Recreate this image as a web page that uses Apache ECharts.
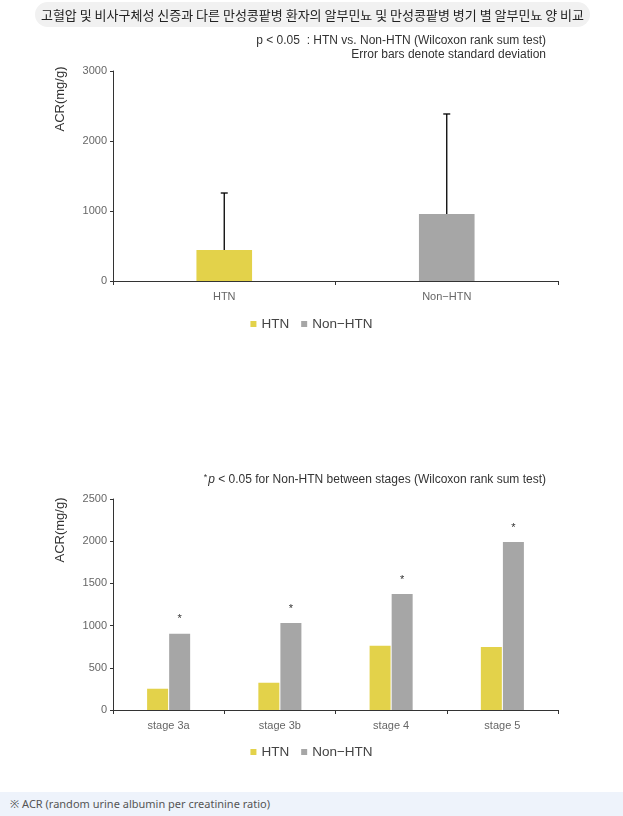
<!DOCTYPE html>
<html>
<head>
<meta charset="utf-8">
<script src="https://cdn.jsdelivr.net/npm/echarts@6/dist/echarts.min.js"></script>
<style>
html,body{margin:0;padding:0;width:623px;height:816px;background:#fff;overflow:hidden;}
#chart{position:absolute;left:0;top:0;width:623px;height:816px;}
#hdr{position:absolute;left:35px;top:2px;width:555px;height:25px;border-radius:13px;background:#f1f1f1;
 font-family:"Noto Sans CJK KR",sans-serif;font-size:13px;color:#222;text-align:center;line-height:25px;white-space:nowrap;}
#ftr{position:absolute;left:0;top:792px;width:623px;height:24px;background:#eef3fb;
 font-family:"Noto Sans","Noto Sans CJK KR",sans-serif;font-size:11px;color:#555;line-height:24px;padding-left:10px;box-sizing:border-box;}
</style>
</head>
<body>
<div id="chart"></div>
<div id="hdr">고혈압 및 비사구체성 신증과 다른 만성콩팥병 환자의 알부민뇨 및 만성콩팥병 병기 별 알부민뇨 양 비교</div>
<div id="ftr">※ ACR (random urine albumin per creatinine ratio)</div>
<script>
// ---- data ----
const groupCats = ['HTN', 'Non\u2212HTN'];
const groupMean = [443, 957];
const groupUpper = [1257, 2386]; // mean + SD
const stageCats = ['stage 3a', 'stage 3b', 'stage 4', 'stage 5'];
const stageHTN = [252, 323, 762, 746];
const stageNonHTN = [904, 1031, 1374, 1990];
const topTicks = [0, 1000, 2000, 3000];
const bottomTicks = [0, 500, 1000, 1500, 2000, 2500];

const YELLOW = '#e3d24a', GRAY = '#a6a6a6';
const FONT = '"Liberation Sans", Arial, sans-serif';

const chart = echarts.init(document.getElementById('chart'));

function yAxisCfg(idx, ticks) {
  return {
    type: 'value', gridIndex: idx, min: ticks[0], max: ticks[ticks.length - 1],
    interval: ticks[1] - ticks[0],
    axisLine: {show: true, lineStyle: {color: '#333', width: 1}},
    axisTick: {show: true, length: 3, lineStyle: {color: '#333'}},
    axisLabel: {color: '#666', fontSize: 11, fontFamily: FONT, margin: 6, formatter: v => String(v)},
    splitLine: {show: false}
  };
}
function xAxisCfg(idx, cats) {
  return {
    type: 'category', gridIndex: idx, data: cats,
    axisLine: {show: true, lineStyle: {color: '#333', width: 1}},
    axisTick: {show: true, length: 4, alignWithLabel: false, lineStyle: {color: '#333'}},
    axisLabel: {color: '#666', fontSize: 11, fontFamily: FONT, margin: 10}
  };
}

const errData = groupCats.map((c, i) => [i, groupMean[i], groupUpper[i]]);

chart.setOption({
  animation: false,
  textStyle: {fontFamily: FONT},
  grid: [
    {left: 113, right: 65, top: 71, height: 210},
    {left: 113, right: 65, top: 499, height: 211}
  ],
  xAxis: [xAxisCfg(0, groupCats), xAxisCfg(1, stageCats)],
  yAxis: [yAxisCfg(0, topTicks), yAxisCfg(1, bottomTicks)],
  legend: [
    {data: ['HTN', 'Non\u2212HTN'], top: 312, left: 'center', itemWidth: 6, itemHeight: 6, itemGap: 12,
     icon: 'rect', textStyle: {color: '#444', fontSize: 13.5, fontFamily: FONT}},
    {data: ['HTN', 'Non\u2212HTN'], top: 740, left: 'center', itemWidth: 6, itemHeight: 6, itemGap: 12,
     icon: 'rect', textStyle: {color: '#444', fontSize: 13.5, fontFamily: FONT}}
  ],
  graphic: [
    {type: 'text', rotation: Math.PI / 2, x: 54, y: 99,
     style: {text: 'ACR(mg/g)', fontSize: 13, fontFamily: FONT, fill: '#333', align: 'center', verticalAlign: 'top'}},
    {type: 'text', rotation: Math.PI / 2, x: 54, y: 530,
     style: {text: 'ACR(mg/g)', fontSize: 13, fontFamily: FONT, fill: '#333', align: 'center', verticalAlign: 'top'}},
    {type: 'text', x: 546, y: 41,
     style: {text: 'p < 0.05  : HTN vs. Non-HTN (Wilcoxon rank sum test)', fontSize: 12, fontFamily: FONT, fill: '#333', align: 'right', verticalAlign: 'middle'}},
    {type: 'text', x: 546, y: 55,
     style: {text: 'Error bars denote standard deviation', fontSize: 12, fontFamily: FONT, fill: '#333', align: 'right', verticalAlign: 'middle'}},
    {type: 'text', x: 546, y: 480,
     style: {text: '{s|*}{i|p}{n| < 0.05 for Non-HTN between stages (Wilcoxon rank sum test)}', align: 'right', verticalAlign: 'middle',
       rich: {s: {fontSize: 9, fontFamily: FONT, fill: '#333', padding: [0,1,4,0]}, i: {fontSize: 12, fontStyle: 'italic', fontFamily: FONT, fill: '#333'},
              n: {fontSize: 12, fontFamily: FONT, fill: '#333'}}}}
  ],
  series: [
    {name: 'HTN', type: 'bar', xAxisIndex: 0, yAxisIndex: 0, barWidth: '25%', barGap: '-100%',
     itemStyle: {color: YELLOW}, data: [groupMean[0], '-']},
    {name: 'Non\u2212HTN', type: 'bar', xAxisIndex: 0, yAxisIndex: 0, barWidth: '25%', barGap: '-100%',
     itemStyle: {color: GRAY}, data: ['-', groupMean[1]]},
    {name: 'err', type: 'custom', xAxisIndex: 0, yAxisIndex: 0, z: 5, data: errData,
     encode: {x: 0, y: [1, 2]},
     renderItem: function (params, api) {
       const x = api.value(0);
       const p0 = api.coord([x, api.value(1)]);
       const p1 = api.coord([x, api.value(2)]);
       const style = {stroke: '#000', lineWidth: 1.3};
       return {type: 'group', children: [
         {type: 'line', shape: {x1: p0[0], y1: p0[1], x2: p1[0], y2: p1[1]}, style: style},
         {type: 'line', shape: {x1: p1[0] - 3.5, y1: p1[1], x2: p1[0] + 3.5, y2: p1[1]}, style: style}
       ]};
     }},
    {name: 'HTN', type: 'bar', xAxisIndex: 1, yAxisIndex: 1, barWidth: 21, barGap: '5%',
     itemStyle: {color: YELLOW}, data: stageHTN},
    {name: 'Non\u2212HTN', type: 'bar', xAxisIndex: 1, yAxisIndex: 1, barWidth: 21, barGap: '5%',
     itemStyle: {color: GRAY}, data: stageNonHTN,
     label: {show: true, position: 'top', distance: 9, formatter: '*', color: '#333', fontSize: 11, fontFamily: FONT}}
  ]
});
</script>
</body>
</html>
